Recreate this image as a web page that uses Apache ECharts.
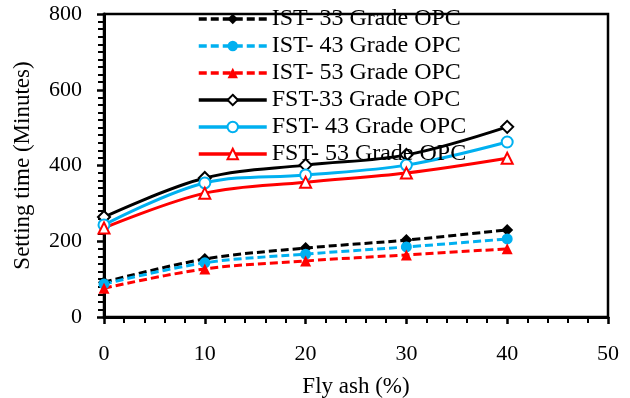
<!DOCTYPE html>
<html>
<head>
<meta charset="utf-8">
<script src="https://cdn.jsdelivr.net/npm/echarts@6/dist/echarts.min.js"></script>
<style>
  html, body { margin: 0; padding: 0; background: #fff; }
  #chart { width: 630px; height: 398px; }
</style>
</head>
<body>
<div id="chart"></div>
<script>
// fly ash content (%)
const flyAsh = [0, 10, 20, 30, 40]

// initial setting time (minutes)
const ist33 = [92, 153, 182, 203, 230]
const ist43 = [87, 143, 166, 185, 206]
const ist53 = [76, 127, 148, 164, 180]

// final setting time (minutes)
const fst33 = [264, 367, 401, 428, 502]
const fst43 = [243, 354, 375, 401, 462]
const fst53 = [235, 327, 356, 380, 419]

const BLACK = '#000000'
const CYAN = '#00B0F0'
const RED = '#FF0000'
const FONT = '"Liberation Serif", "DejaVu Serif", serif'

const pairs = (ys) => flyAsh.map((x, i) => [x, ys[i]])

const mkSeries = (name, ys, color, dashed, symbol, filled) => ({
  name: name,
  type: 'line',
  smooth: 0.35,
  data: pairs(ys),
  symbol: symbol,
  symbolSize: symbol === 'diamond' ? 12 : 11,
  showAllSymbol: true,
  lineStyle: { color: color, width: 3, type: dashed ? [8, 4] : 'solid' },
  itemStyle: {
    color: filled ? color : '#fff',
    borderColor: color,
    borderWidth: filled ? 0 : 2
  },
  emphasis: { disabled: true }
})

const myChart = echarts.init(document.getElementById('chart'))

const myOption = {
  backgroundColor: '#fff',
  animation: false,
  textStyle: { fontFamily: FONT },

  legend: {
    orient: 'vertical',
    left: 197,
    top: 7,
    padding: 0,
    itemWidth: 68,
    itemHeight: 13,
    itemGap: 3,
    lineStyle: { width: 3.5 },
    textStyle: { color: '#000', fontSize: 24, fontFamily: FONT, lineHeight: 22.6 },
    selectedMode: false
  },

  grid: {
    left: 104,
    right: 22,
    top: 14,
    bottom: 81,
    outerBoundsMode: 'none',
    show: true,
    borderColor: '#000',
    borderWidth: 2.5,
    backgroundColor: 'transparent'
  },

  xAxis: {
    type: 'value',
    min: 0,
    max: 50,
    interval: 10,
    name: 'Fly ash (%)',
    nameLocation: 'middle',
    nameGap: 58,
    nameTextStyle: { color: '#000', fontSize: 23, fontFamily: FONT },
    axisLine: { show: true, lineStyle: { color: '#000', width: 3 } },
    axisTick: { show: true, length: 7, lineStyle: { color: '#000', width: 2.5 } },
    minorTick: { show: true, splitNumber: 5, length: 6, lineStyle: { color: '#000', width: 2 } },
    splitLine: { show: false },
    axisLabel: { color: '#000', fontSize: 22, fontFamily: FONT, margin: 26 }
  },

  yAxis: {
    type: 'value',
    min: 0,
    max: 800,
    interval: 200,
    name: 'Setting time (Minutes)',
    nameLocation: 'middle',
    nameGap: 70,
    nameTextStyle: { color: '#000', fontSize: 23, fontFamily: FONT },
    axisLine: { show: true, lineStyle: { color: '#000', width: 3 } },
    axisTick: { show: true, length: 7, lineStyle: { color: '#000', width: 2.5 } },
    minorTick: { show: true, splitNumber: 10, length: 6, lineStyle: { color: '#000', width: 2 } },
    splitLine: { show: false },
    axisLabel: { color: '#000', fontSize: 22, fontFamily: FONT, margin: 22 }
  },

  series: [
    mkSeries('IST- 33 Grade OPC', ist33, BLACK, true, 'diamond', true),
    mkSeries('IST- 43 Grade OPC', ist43, CYAN, true, 'circle', true),
    mkSeries('IST- 53 Grade OPC', ist53, RED, true, 'triangle', true),
    mkSeries('FST-33 Grade OPC', fst33, BLACK, false, 'diamond', false),
    mkSeries('FST- 43 Grade OPC', fst43, CYAN, false, 'circle', false),
    mkSeries('FST- 53 Grade OPC', fst53, RED, false, 'triangle', false)
  ]
}
myChart.setOption(myOption)
</script>
</body>
</html>
